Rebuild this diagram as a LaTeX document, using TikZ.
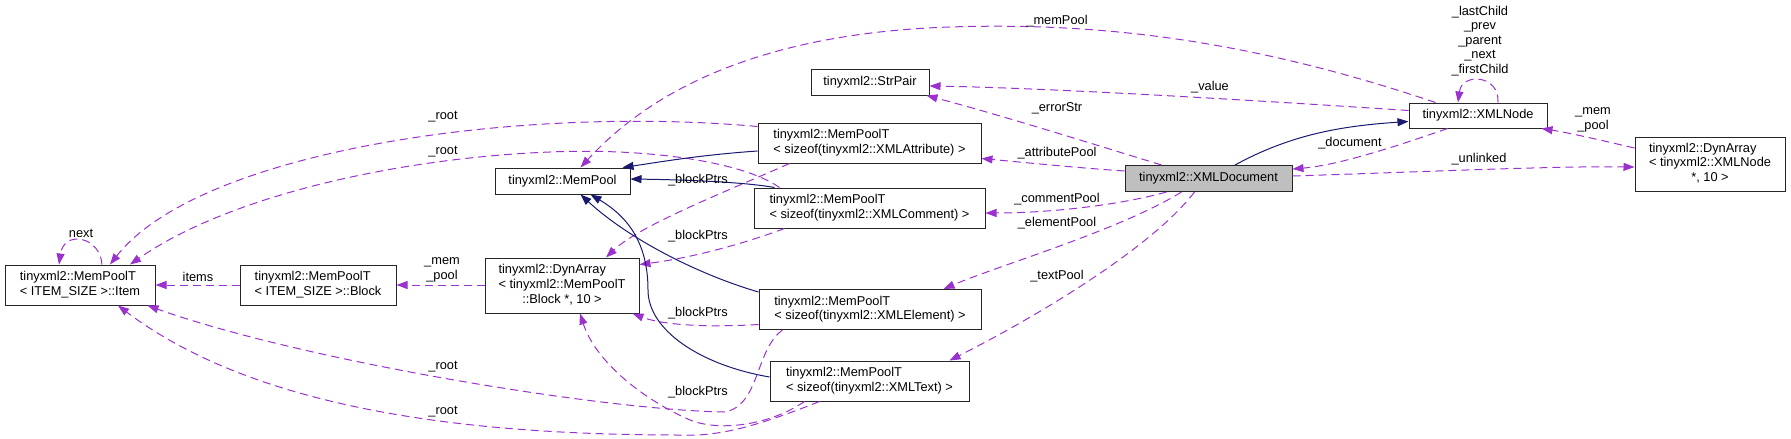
\documentclass[tikz,border=0pt]{standalone}
\usepackage{fontspec}
\setmainfont{Liberation Sans}
\usetikzlibrary{arrows.meta,calc}
\definecolor{edgepurple}{HTML}{9A32CD}
\definecolor{edgenavy}{HTML}{191970}
\definecolor{docgray}{HTML}{BFBFBF}
\newcommand\dfont{\fontsize{12.8}{14.6}\selectfont}
\newcommand\twol[2]{\begin{tabular}{@{}l@{}}#1\\\multicolumn{1}{@{}c@{}}{#2}\end{tabular}}
\newcommand\threel[3]{\begin{tabular}{@{}l@{}}#1\\#2\\\multicolumn{1}{@{}c@{}}{#3}\end{tabular}}
\tikzset{
  box/.style={draw=black!85, line width=1pt, fill=white, inner sep=0pt, font=\dfont, align=center},
  ref/.style={draw=edgepurple, line width=1pt, dash pattern=on 8pt off 5pt, -{Triangle[length=11pt,width=8pt]}},
  inh/.style={draw=edgenavy, line width=1pt, -{Triangle[length=11pt,width=8pt]}},
  lbl/.style={font=\dfont, inner sep=0pt, align=center},
}
\begin{document}
\begin{tikzpicture}[x=1pt,y=-1pt]
\useasboundingbox (0,0) rectangle (1791,439);
% nodes
\node[box, minimum width=150pt, minimum height=40pt] (item) at (80,285) {\twol{tinyxml2::MemPoolT}{< ITEM\_SIZE >::Item}};
\node[box, minimum width=156pt, minimum height=40pt] (block) at (318,285) {\twol{tinyxml2::MemPoolT}{< ITEM\_SIZE >::Block}};
\node[box, minimum width=154pt, minimum height=55pt] (dynblock) at (562,285.5) {\threel{tinyxml2::DynArray}{< tinyxml2::MemPoolT}{::Block *, 10 >}};
\node[box, minimum width=135pt, minimum height=26pt] (mempool) at (562.5,181) {tinyxml2::MemPool};
\node[box, minimum width=223pt, minimum height=40pt] (attr) at (869.5,143) {\twol{tinyxml2::MemPoolT}{< sizeof(tinyxml2::XMLAttribute) >}};
\node[box, minimum width=231pt, minimum height=40pt] (comment) at (869.5,208) {\twol{tinyxml2::MemPoolT}{< sizeof(tinyxml2::XMLComment) >}};
\node[box, minimum width=222pt, minimum height=40pt] (element) at (870,309.5) {\twol{tinyxml2::MemPoolT}{< sizeof(tinyxml2::XMLElement) >}};
\node[box, minimum width=199pt, minimum height=40pt] (text) at (869.5,381) {\twol{tinyxml2::MemPoolT}{< sizeof(tinyxml2::XMLText) >}};
\node[box, minimum width=118pt, minimum height=26pt] (strpair) at (870,82) {tinyxml2::StrPair};
\node[box, fill=docgray, minimum width=167pt, minimum height=26pt] (xmldoc) at (1208.5,178.5) {tinyxml2::XMLDocument};
\node[box, minimum width=138pt, minimum height=25pt] (xmlnode) at (1478,115.5) {tinyxml2::XMLNode};
\node[box, minimum width=150pt, minimum height=54pt] (dynnode) at (1710,164) {\threel{tinyxml2::DynArray}{< tinyxml2::XMLNode}{*, 10 >}};
% edges
\draw[ref] ($(item.north)+(22,0)$) .. controls (100,236) and (64,230) .. ($(item.north)+(-21,0)$);
\draw[ref] (block.west) -- (item.east);
\draw[ref] (dynblock.west |- block.east) -- (block.east);
\draw[ref] ($(attr.north west)+(0,4)$) .. controls (520,105) and (200,150) .. ($(item.north)+(30,0)$);
\draw[ref] ($(comment.north west)+(26,0)$) .. controls (740,160) and (640,148) .. (550,152) .. controls (400,158) and (230,195) .. ($(item.north)+(50,0)$);
\draw[ref] ($(attr.south west)+(32,0)$) .. controls (730,190) and (640,225) .. ($(dynblock.north)+(44,0)$);
\draw[ref] ($(comment.south west)+(31,0)$) .. controls (740,245) and (690,258) .. ($(dynblock.north east)+(0,7)$);
\draw[ref] ($(element.west)+(0,15)$) .. controls (700,328) and (660,324) .. ($(dynblock.south east)+(-7,0)$);
\draw[ref] ($(text.south west)+(35,0)$) .. controls (770,425) and (720,432) .. (690,420) .. controls (640,398) and (595,360) .. ($(dynblock.south)+(18,0)$);
\draw[inh] ($(element.north west)+(0,3)$) .. controls (700,275) and (630,240) .. ($(mempool.south)+(18,0)$);
\draw[inh] ($(text.west)+(0,-4)$) .. controls (700,365) and (648,330) .. (648,290) .. controls (648,240) and (625,215) .. ($(mempool.south)+(28,0)$);
\draw[inh] ($(attr.west)+(0,8)$) .. controls (700,155) and (660,162) .. ($(mempool.north east)+(-8,0)$);
\draw[inh] ($(comment.north west)+(21,0)$) .. controls (750,183) and (700,180) .. ($(mempool.east)+(0,-2)$);
\draw[ref] ($(xmlnode.north west)+(27,0)$) .. controls (1250,40) and (1100,22) .. (950,27) .. controls (800,32) and (670,70) .. ($(mempool.north)+(18,0)$);
\draw[ref] ($(xmlnode.north)+(20,0)$) .. controls (1500,75) and (1462,72) .. ($(xmlnode.north)+(-20,0)$);
\draw[ref] ($(xmlnode.west)+(0,-5)$) .. controls (1250,100) and (1050,88) .. ($(strpair.east)+(0,4)$);
\draw[ref] ($(xmldoc.north west)+(37,0)$) .. controls (1080,140) and (1000,115) .. ($(strpair.south east)+(-3,0)$);
\draw[ref] ($(xmldoc.north west)+(0,6)$) .. controls (1080,168) and (1030,163) .. ($(attr.south east)+(0,-5)$);
\draw[ref] ($(xmldoc.south west)+(42,0)$) .. controls (1120,205) and (1050,213) .. ($(comment.east)+(0,5)$);
\draw[ref] ($(xmldoc.south west)+(57,0)$) .. controls (1120,230) and (1000,265) .. ($(element.north east)+(-38,0)$);
\draw[ref] ($(xmldoc.south west)+(70,0)$) .. controls (1150,250) and (1030,320) .. ($(text.north east)+(-20,0)$);
\draw[ref] ($(xmlnode.south west)+(39,0)$) .. controls (1400,145) and (1340,165) .. ($(xmldoc.north east)+(0,4)$);
\draw[inh] ($(xmldoc.north)+(26.5,0)$) .. controls (1290,135) and (1340,126) .. ($(xmlnode.west)+(0,6)$);
\draw[ref] ($(xmldoc.east)+(0,-2.5)$) .. controls (1420,172) and (1550,166) .. ($(dynnode.west)+(0,3)$);
\draw[ref] ($(dynnode.west)+(0,-16)$) .. controls (1600,140) and (1570,133) .. ($(xmlnode.south east)+(-6,0)$);
\draw[ref] ($(element.south west)+(24,0)$) .. controls (755,350) and (760,405) .. (725,412) .. controls (600,410) and (300,360) .. ($(item.south east)+(-8,0)$);
\draw[ref] ($(text.south west)+(50,0)$) .. controls (760,425) and (720,437) .. (680,435) .. controls (450,435) and (250,405) .. ($(item.south)+(38,0)$);
% labels
\node[lbl] (lnext) at (81,233) {next};
\node[lbl] (litems) at (198,277) {items};
\node[lbl] (lmempoolA) at (442,270) {\_mem\\\_pool};
\node[lbl] (lrootA) at (443,117) {\_root};
\node[lbl] (lrootB) at (443,152) {\_root};
\node[lbl] (lrootC) at (443,367) {\_root};
\node[lbl] (lrootD) at (443,412) {\_root};
\node[lbl] (lbpA) at (698,180) {\_blockPtrs};
\node[lbl] (lbpB) at (698,236) {\_blockPtrs};
\node[lbl] (lbpC) at (698,313) {\_blockPtrs};
\node[lbl] (lbpD) at (698,392) {\_blockPtrs};
\node[lbl] (lmemPool) at (1057,21) {\_memPool};
\node[lbl] (lvalue) at (1210,87) {\_value};
\node[lbl] (lerr) at (1057,108) {\_errorStr};
\node[lbl] (lattr) at (1057,153) {\_attributePool};
\node[lbl] (lcomm) at (1057,199) {\_commentPool};
\node[lbl] (lelem) at (1057,223) {\_elementPool};
\node[lbl] (ltext) at (1057,276) {\_textPool};
\node[lbl] (ldoc) at (1350,143) {\_document};
\node[lbl] (lunl) at (1479,159) {\_unlinked};
\node[lbl] (lmempoolB) at (1593,120) {\_mem\\\_pool};
\node[lbl] (lloop) at (1480,41) {\_lastChild\\\_prev\\\_parent\\\_next\\\_firstChild};
\end{tikzpicture}
\end{document}
